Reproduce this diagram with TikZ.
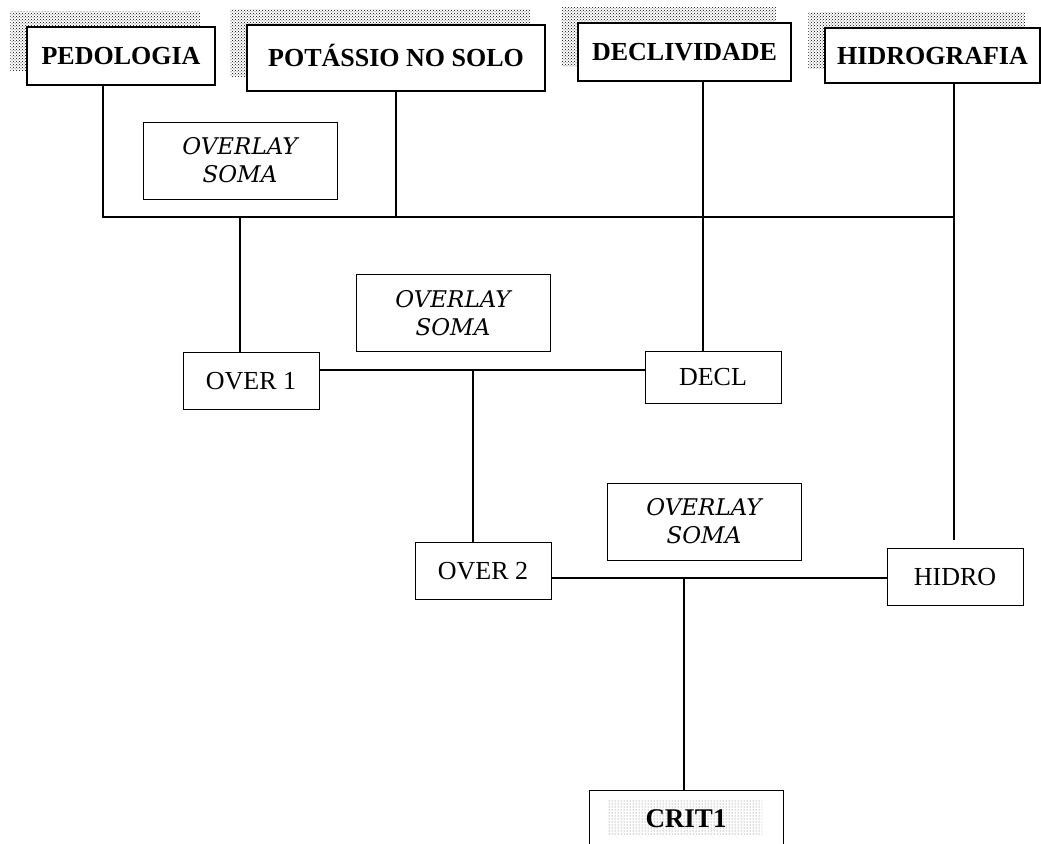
\documentclass[tikz,border=0pt]{standalone}
\usepackage{fontspec}
\setmainfont{Liberation Serif}
\newfontfamily\opfont{DejaVu Serif}
\usetikzlibrary{backgrounds,patterns}
\begin{document}
\begin{tikzpicture}[x=1pt,y=-1pt,
  line width=1.5pt,
  layerbox/.style={draw,fill=white,inner sep=0pt,text height=17pt,text depth=0pt,
    font=\bfseries\fontsize{26}{28}\selectfont},
  resultbox/.style={draw,fill=white,inner sep=0pt,text height=17pt,text depth=0pt,
    font=\fontsize{26}{28}\selectfont},
  opbox/.style={draw,fill=white,inner sep=0pt,align=center,
    minimum width=194pt,minimum height=77pt,
    font=\opfont\itshape\fontsize{23}{28}\selectfont},
  shade/.style={pattern=crosshatch dots,pattern color=black},
  link/.style={line width=1.5pt}]
\useasboundingbox (0,0) rectangle (1041,843);

% input layers
\node[layerbox,minimum width=188pt,minimum height=58pt] (ped) at (121,56) {PEDOLOGIA};
\node[layerbox,minimum width=298pt,minimum height=66pt] (pot) at (396,58) {POTÁSSIO NO SOLO};
\node[layerbox,minimum width=213pt,minimum height=58pt] (dec) at (684.5,52) {DECLIVIDADE};
\node[layerbox,minimum width=215pt,minimum height=55pt] (hid) at (932.5,55.5) {HIDROGRAFIA};

% drop shadows behind the input layers
\begin{pgfonlayer}{background}
  \foreach \n in {ped,pot,dec,hid}
    \fill[shade] ([shift={(-16,-15)}]\n.south west) rectangle ([shift={(-16,-15)}]\n.north east);
\end{pgfonlayer}

% overlay operations
\node[opbox] (op1) at (240,160.5) {OVERLAY\\SOMA};
\node[opbox] (op2) at (453,313) {OVERLAY\\SOMA};
\node[opbox] (op3) at (704,521.5) {OVERLAY\\SOMA};

% intermediate results
\node[resultbox,minimum width=136pt,minimum height=57pt] (over1) at (251,380.5) {OVER 1};
\node[resultbox,minimum width=136pt,minimum height=52pt] (decl) at (713,377) {DECL};
\node[resultbox,minimum width=136pt,minimum height=57pt] (over2) at (483,570.5) {OVER 2};
\node[resultbox,minimum width=136pt,minimum height=57pt] (hidro) at (955,576.5) {HIDRO};

% final criterion (runs past the lower edge)
\node[draw,fill=white,inner sep=0pt,anchor=north,minimum width=194pt,minimum height=70pt] (crit) at (686,790) {};
\fill[pattern=dots,pattern color=black!60] (608,800) rectangle (762,835);
\node[font=\bfseries\fontsize{27}{28}\selectfont,inner sep=0pt,text height=18pt,text depth=0pt] (critlabel) at (686,818) {CRIT1};

% junction points of the buses
\coordinate (busL) at (103,217);
\coordinate (busR) at (954,217);
\coordinate (j1) at (240,217);
\coordinate (dx) at (703,0);
\coordinate (b2) at (0,370);
\coordinate (j2) at (473,370);
\coordinate (b3) at (0,578);
\coordinate (j3) at (684,578);

% first sum: pedologia + potassio
\draw[link] (ped.south -| busL) -- (busL) -- (busR);
\draw[link] (pot.south) -- (pot.south |- busL);
\draw[link] (j1) -- (j1 |- over1.north);
\draw[link,shorten >=8pt] (hid.south -| busR) -- (hidro.north -| busR);
\draw[link] (dec.south -| dx) -- (decl.north -| dx);

% second sum: over1 + decl
\draw[link] (over1.east |- b2) -- (decl.west |- b2);
\draw[link] (j2) -- (j2 |- over2.north);

% third sum: over2 + hidro
\draw[link] (over2.east |- b3) -- (hidro.west |- b3);
\draw[link] (j3) -- (j3 |- crit.north);
\end{tikzpicture}
\end{document}
